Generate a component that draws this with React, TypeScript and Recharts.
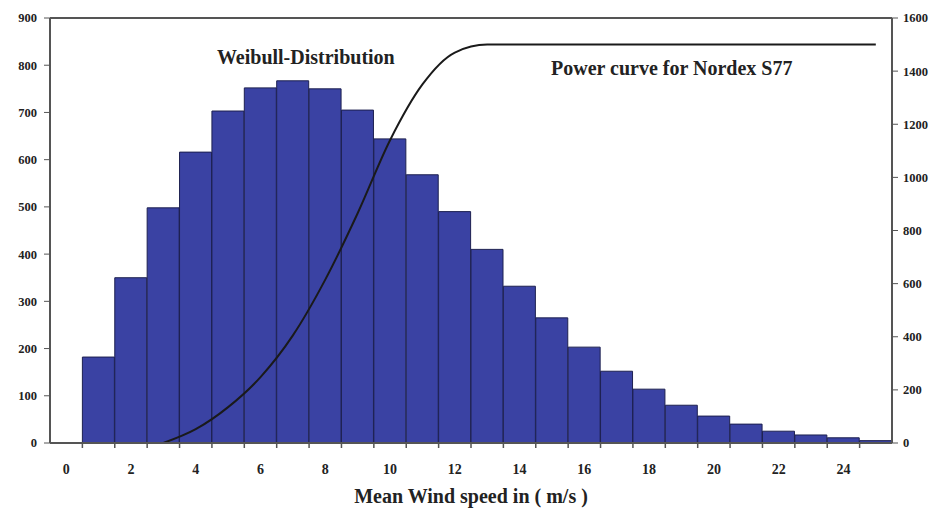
import React from "react"
import { Bar, ComposedChart, Line, ReferenceDot, ReferenceLine, XAxis, YAxis } from "recharts"

// wind speed classes in m/s
const speeds = [0, 1, 2, 3, 4, 5, 6, 7, 8, 9, 10, 11, 12, 13, 14, 15, 16, 17, 18, 19, 20, 21, 22, 23, 24, 25]
// Weibull distribution, hours per year in each class (left axis)
const weibullHours = [0, 182, 350, 498, 616, 703, 752, 767, 750, 705, 644, 568, 490, 410, 332, 265, 203, 152, 114, 80, 57, 40, 25, 17, 11, 5]
// Nordex S77 power curve in kW (right axis), no output below cut-in
const powerKw = [null, null, null, 0, 52, 135, 248, 405, 615, 865, 1140, 1350, 1470, 1500, 1500, 1500, 1500, 1500, 1500, 1500, 1500, 1500, 1500, 1500, 1500, 1500]

const xLabelTicks = [0, 2, 4, 6, 8, 10, 12, 14, 16, 18, 20, 22, 24]
const xEdgeTicks = [0.5, 1.5, 2.5, 3.5, 4.5, 5.5, 6.5, 7.5, 8.5, 9.5, 10.5, 11.5, 12.5, 13.5, 14.5, 15.5, 16.5, 17.5, 18.5, 19.5, 20.5, 21.5, 22.5, 23.5, 24.5]
const leftTicks = [0, 100, 200, 300, 400, 500, 600, 700, 800, 900]
const rightTicks = [0, 200, 400, 600, 800, 1000, 1200, 1400, 1600]

const data = speeds.map((s, i) => ({ speed: s, hours: weibullHours[i], power: powerKw[i] }))

const FONT = "'Liberation Serif', 'DejaVu Serif', 'Times New Roman', serif"
const AXIS = "#555"
const INK = "#222"

const XTick = (props: any) => {
  const { x, y, payload } = props
  if (xEdgeTicks.includes(payload.value)) {
    return <line x1={x} y1={y} x2={x} y2={y + 5} stroke={AXIS} strokeWidth={1.5} />
  }
  return (
    <text x={x} y={y + 31} textAnchor="middle" style={{ fontFamily: FONT, fontWeight: 700, fontSize: 14 }} fill={INK}>
      {payload.value}
    </text>
  )
}

const tickStyle = { fontFamily: FONT, fontWeight: 700, fontSize: 12.5, fill: INK }
const textStyle = { fontFamily: FONT, fontWeight: 700, fontSize: 20, fill: INK }

export default function App() {
  return (
    <div style={{ position: "absolute", left: 0, top: 0, background: "#fff", fontFamily: FONT }}>
      <ComposedChart
        width={934}
        height={511}
        data={data}
        margin={{ top: 18, right: 0, left: 0, bottom: 0 }}
        barCategoryGap={0}
        style={{ fontFamily: FONT }}
      >
        <XAxis
          dataKey="speed"
          type="number"
          domain={[-0.5, 25.5]}
          ticks={[...xLabelTicks, ...xEdgeTicks].sort((a, b) => a - b)}
          interval={0}
          height={68}
          tickSize={0}
          tickMargin={0}
          tick={<XTick />}
          axisLine={{ stroke: AXIS, strokeWidth: 2 }}
          label={{
            value: "Mean Wind speed in ( m/s )",
            position: "insideBottom",
            offset: 8,
            style: textStyle,
          }}
        />
        <YAxis
          yAxisId="left"
          width={50}
          domain={[0, 900]}
          ticks={leftTicks}
          interval={0}
          tick={tickStyle}
          tickSize={6}
          tickMargin={7}
          tickLine={{ stroke: AXIS }}
          axisLine={{ stroke: AXIS, strokeWidth: 2 }}
        />
        <YAxis
          yAxisId="right"
          orientation="right"
          width={42}
          domain={[0, 1600]}
          ticks={rightTicks}
          interval={0}
          tick={tickStyle}
          tickSize={6}
          tickMargin={5}
          tickLine={{ stroke: AXIS }}
          axisLine={{ stroke: AXIS, strokeWidth: 2 }}
        />
        <ReferenceLine yAxisId="left" y={900} stroke={AXIS} strokeWidth={2} />
        <Bar
          yAxisId="left"
          dataKey="hours"
          fill="#3a42a3"
          stroke="#1d2050"
          strokeWidth={1}
          isAnimationActive={false}
        />
        <Line
          yAxisId="right"
          dataKey="power"
          type="monotone"
          stroke="#1a1a1a"
          strokeWidth={2}
          dot={false}
          activeDot={false}
          isAnimationActive={false}
        />
        <ReferenceDot
          yAxisId="left"
          x={7.4}
          y={817}
          r={0}
          fill="none"
          stroke="none"
          label={{ value: "Weibull-Distribution", position: "center", style: textStyle }}
        />
        <ReferenceDot
          yAxisId="left"
          x={18.7}
          y={794}
          r={0}
          fill="none"
          stroke="none"
          label={{ value: "Power curve for Nordex S77", position: "center", style: textStyle }}
        />
      </ComposedChart>
    </div>
  )
}
